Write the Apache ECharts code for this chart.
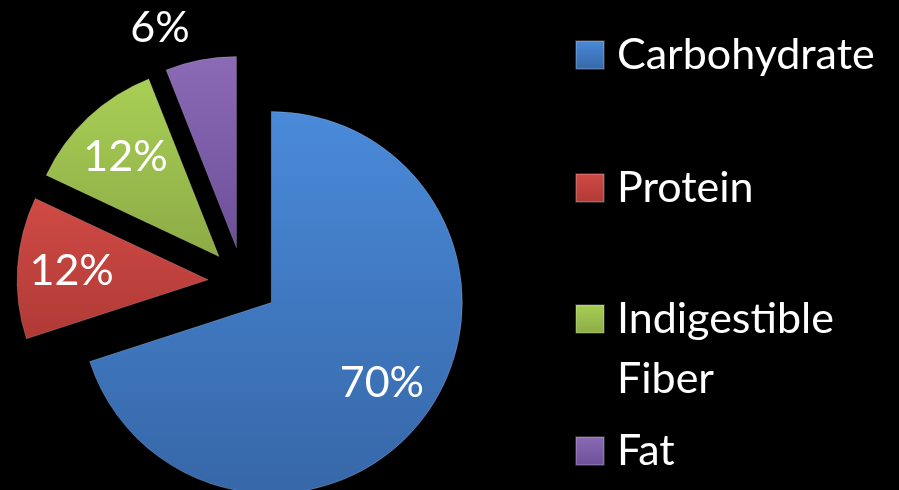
<!DOCTYPE html>
<html>
<head>
<meta charset="utf-8">
<script src="https://cdn.jsdelivr.net/npm/echarts@6/dist/echarts.min.js"></script>
<style>
html,body{margin:0;padding:0;background:#000;}
#c{width:899px;height:490px;}
</style>
</head>
<body>
<div id="c"></div>
<script>
const categories = ['Carbohydrate', 'Protein', 'Indigestible Fiber', 'Fat'];
const values = [70, 12, 12, 6];
const legendLabels = ['Carbohydrate', 'Protein', '\u00a0\nIndigestible\nFiber', 'Fat'];
const colorTop = ['#4a8ad9', '#d04a45', '#a9cf55', '#8b6ab6'];
const colorBottom = ['#3667a8', '#b03a36', '#8cab46', '#6d4f98'];

const FONT = 'Lato';
const FS = 43;

function grad(i) {
  return {
    type: 'linear', x: 0, y: 0, x2: 0, y2: 1,
    colorStops: [{ offset: 0, color: colorTop[i] }, { offset: 1, color: colorBottom[i] }]
  };
}

const center = [243, 282];
const R = 191;
const explode = 35;

const mainData = categories.map((n, i) => ({
  name: n,
  value: values[i],
  selected: true,
  itemStyle: { color: grad(i), borderColor: 'rgba(255,255,255,0.18)', borderWidth: 1 },
  label: i === 3 ? {
    show: true, position: 'outside', color: '#fff', fontFamily: FONT, fontSize: FS,
    formatter: p => p.value + '%'
  } : { show: false }
}));

const ghostData = categories.map((n, i) => ({
  name: n,
  value: values[i],
  selected: true,
  label: i === 3 ? { show: false } : {
    show: true, position: 'inside', color: '#fff', fontFamily: FONT, fontSize: FS,
    formatter: p => p.value + '%'
  }
}));

const legendTops = [27, 160, 229, 423];
const legends = categories.map((n, i) => ({
  data: [{ name: n, itemStyle: { color: grad(i) } }],
  orient: 'vertical',
  left: 575,
  top: legendTops[i],
  padding: 0,
  itemWidth: 28,
  itemHeight: 28,
  icon: 'rect',
  selectedMode: false,
  formatter: () => legendLabels[i],
  textStyle: {
    color: '#fff', fontFamily: FONT, fontSize: FS,
    lineHeight: i === 2 ? 60 : 56,
    padding: [0, 0, 0, 8]
  }
}));

const chart = echarts.init(document.getElementById('c'), null, { renderer: 'canvas' });
chart.setOption({
  backgroundColor: '#000',
  animation: false,
  legend: legends,
  series: [
    {
      type: 'pie',
      center: center,
      radius: R,
      startAngle: 90,
      clockwise: true,
      selectedMode: 'multiple',
      selectedOffset: explode,
      avoidLabelOverlap: false,
      silent: true,
      labelLine: { show: false, length: 32, length2: 0 },
      data: mainData
    },
    {
      type: 'pie',
      center: center,
      radius: R * 1.4,
      startAngle: 90,
      clockwise: true,
      selectedMode: 'multiple',
      selectedOffset: explode,
      avoidLabelOverlap: false,
      silent: true,
      z: 5,
      itemStyle: { color: 'rgba(0,0,0,0)', borderWidth: 0 },
      labelLine: { show: false },
      data: ghostData
    }
  ]
});
</script>
</body>
</html>
